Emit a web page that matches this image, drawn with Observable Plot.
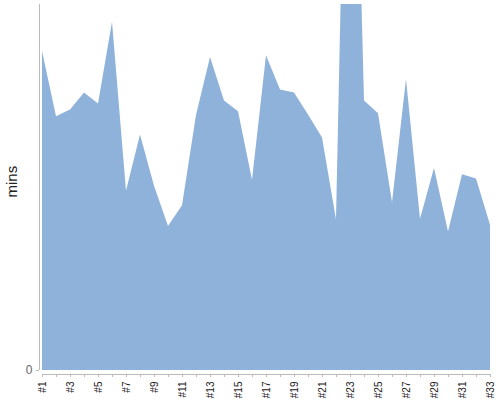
<!DOCTYPE html>
<html>
<head>
<meta charset="utf-8">
<script src="https://cdn.jsdelivr.net/npm/d3@7"></script>
<script src="https://cdn.jsdelivr.net/npm/@observablehq/plot@0.6"></script>
<style>
  html, body { margin: 0; padding: 0; background: #fff; }
  #chart svg { display: block; }
</style>
</head>
<body>
<div id="chart"></div>
<script>
const categories = ["#1","#2","#3","#4","#5","#6","#7","#8","#9","#10","#11","#12","#13","#14","#15","#16","#17","#18","#19","#20","#21","#22","#23","#24","#25","#26","#27","#28","#29","#30","#31","#32","#33"];
const mins = [52.3, 41.6, 42.7, 45.5, 43.7, 57.1, 29.4, 38.6, 30.2, 23.6, 27.0, 41.8, 51.3, 44.2, 42.4, 31.2, 51.6, 46.0, 45.5, 41.9, 38.1, 24.7, 133, 44.2, 42.1, 27.5, 47.7, 24.8, 33.1, 22.7, 32.1, 31.4, 23.8];
const yTicks = [0];
const yLabel = "mins";

const data = categories.map((c, i) => ({cat: c, v: mins[i]}));

const chart = Plot.plot({
  width: 500,
  height: 400,
  marginTop: 4,
  marginRight: 10,
  marginBottom: 30,
  marginLeft: 39,
  style: {fontFamily: "'Liberation Sans', Arial, sans-serif", background: "#fff"},
  x: {type: "point", domain: categories, padding: 0, insetLeft: 3},
  y: {domain: [0, 60]},
  marks: [
    Plot.areaY(data, {x: "cat", y: "v", fill: "#8fb2da", clip: true}),
    Plot.ruleX([categories[0]], {dx: -3, stroke: "#bbb"}),
    Plot.ruleY([0], {dy: 4, stroke: "#bbb", insetLeft: 3}),
    Plot.axisX({
      anchor: "bottom", tickSize: 3, dy: 4, tickPadding: 4, tickRotate: -90,
      tickFormat: (d, i) => (categories.indexOf(d) % 2 === 0 ? d : ""),
      stroke: "#bbb", fill: "#222", fontSize: 10, label: null
    }),
    Plot.axisY({
      anchor: "left", ticks: yTicks, tickSize: 3, tickPadding: 4,
      stroke: "#bbb", fill: "#666", fontSize: 12, label: null
    }),
    Plot.text([yLabel], {frameAnchor: "left", dx: -27, dy: 10, rotate: -90, text: d => d, fontSize: 15, fill: "#222"})
  ]
});
document.getElementById("chart").appendChild(chart);
</script>
</body>
</html>
